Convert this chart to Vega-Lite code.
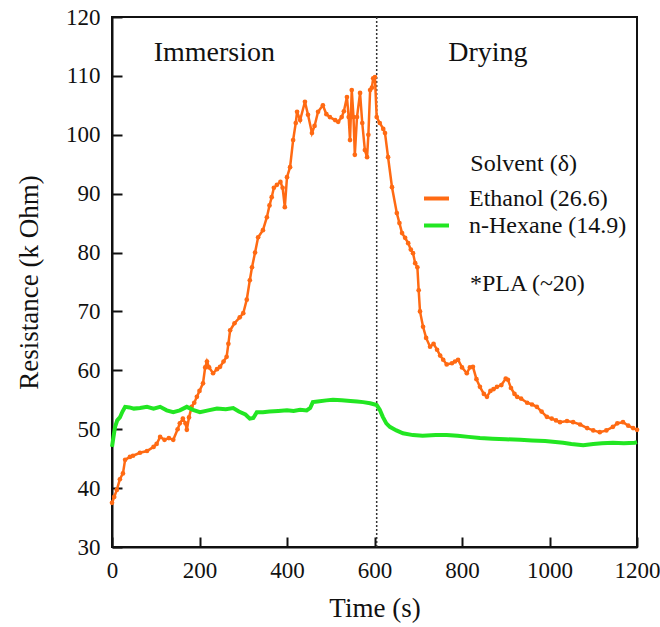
{
  "$schema": "https://vega.github.io/schema/vega-lite/v6.json",
  "width": 525,
  "height": 530,
  "autosize": "none",
  "padding": {"left": 112, "top": 17, "right": 23, "bottom": 80},
  "background": "white",
  "view": {"stroke": "#111", "strokeWidth": 2},
  "datasets": {
    "ethanol": [
      {"t":0,"r":37.5},{"t":5,"r":38.5},{"t":11,"r":39.7},{"t":18,"r":41.5},{"t":25,"r":42.5},{"t":30,"r":44.8},{"t":41,"r":45.3},{"t":48,"r":45.5},{"t":64,"r":46},{"t":80,"r":46.3},{"t":95,"r":47},{"t":102,"r":47.5},{"t":110,"r":48.7},{"t":120,"r":48.2},{"t":130,"r":48.5},{"t":140,"r":48.2},{"t":150,"r":50},{"t":155,"r":51},{"t":162,"r":51.8},{"t":168,"r":51},{"t":171,"r":49.9},{"t":176,"r":52},{"t":182,"r":53.8},{"t":188,"r":54.5},{"t":194,"r":55.5},{"t":200,"r":56.5},{"t":208,"r":57.8},{"t":213,"r":60.5},{"t":217,"r":61.5},{"t":222,"r":60.5},{"t":231,"r":59.5},{"t":240,"r":60.2},{"t":247,"r":60.6},{"t":255,"r":61.5},{"t":262,"r":62.3},{"t":266,"r":64.5},{"t":270,"r":66.8},{"t":280,"r":68},{"t":292,"r":69},{"t":300,"r":69.7},{"t":308,"r":72},{"t":315,"r":75.3},{"t":320,"r":77.5},{"t":327,"r":80},{"t":334,"r":82.6},{"t":345,"r":83.8},{"t":354,"r":86},{"t":360,"r":88},{"t":365,"r":89.4},{"t":370,"r":91},{"t":377,"r":91.5},{"t":385,"r":92},{"t":390,"r":91},{"t":395,"r":87.7},{"t":400,"r":92.8},{"t":407,"r":94.5},{"t":414,"r":99.1},{"t":420,"r":102},{"t":423,"r":103.9},{"t":430,"r":102.5},{"t":441,"r":105.6},{"t":448,"r":103.4},{"t":457,"r":100.3},{"t":463,"r":101.5},{"t":471,"r":103.9},{"t":482,"r":105},{"t":490,"r":103.5},{"t":498,"r":103},{"t":510,"r":102.5},{"t":517,"r":102.2},{"t":525,"r":103},{"t":530,"r":104},{"t":537,"r":106.4},{"t":541,"r":103},{"t":544,"r":99.1},{"t":548,"r":107.6},{"t":552,"r":103},{"t":555,"r":96.6},{"t":560,"r":103},{"t":567,"r":107.1},{"t":572,"r":102},{"t":578,"r":97.4},{"t":583,"r":96.2},{"t":586,"r":100},{"t":590,"r":107.6},{"t":594,"r":108},{"t":597,"r":109.6},{"t":601,"r":109.8},{"t":605,"r":103},{"t":612,"r":102},{"t":620,"r":101},{"t":624,"r":100.3},{"t":631,"r":96.2},{"t":640,"r":91.1},{"t":651,"r":86.7},{"t":657,"r":85},{"t":663,"r":83.3},{"t":670,"r":82.5},{"t":677,"r":81.6},{"t":683,"r":80.5},{"t":688,"r":79.9},{"t":693,"r":78.2},{"t":698,"r":77.5},{"t":701,"r":73.6},{"t":704,"r":70},{"t":711,"r":67.4},{"t":718,"r":65.5},{"t":727,"r":64},{"t":735,"r":64.5},{"t":743,"r":63.5},{"t":750,"r":62.5},{"t":757,"r":61.8},{"t":765,"r":61},{"t":777,"r":61.2},{"t":784,"r":61.5},{"t":791,"r":61.8},{"t":800,"r":60.5},{"t":811,"r":59.5},{"t":818,"r":60.5},{"t":825,"r":60.6},{"t":833,"r":58.5},{"t":841,"r":57.2},{"t":850,"r":56},{"t":857,"r":55.5},{"t":865,"r":56.5},{"t":872,"r":56.8},{"t":880,"r":57.2},{"t":890,"r":57.5},{"t":900,"r":58.6},{"t":905,"r":58.4},{"t":912,"r":57},{"t":920,"r":56},{"t":926,"r":55.5},{"t":935,"r":55.2},{"t":949,"r":54.5},{"t":960,"r":54.2},{"t":971,"r":53.8},{"t":982,"r":53},{"t":994,"r":52.1},{"t":1005,"r":51.8},{"t":1015,"r":51.5},{"t":1024,"r":51.2},{"t":1040,"r":51.4},{"t":1054,"r":51.2},{"t":1070,"r":50.8},{"t":1086,"r":50.2},{"t":1100,"r":49.8},{"t":1115,"r":49.5},{"t":1130,"r":49.8},{"t":1145,"r":50.4},{"t":1155,"r":51},{"t":1168,"r":51.2},{"t":1180,"r":50.6},{"t":1191,"r":50.2},{"t":1200,"r":49.9}
    ],
    "hexane": [
      {"t":0,"r":47},{"t":3,"r":48.5},{"t":7,"r":50.4},{"t":12,"r":51.5},{"t":18,"r":52},{"t":24,"r":53},{"t":30,"r":53.8},{"t":40,"r":53.7},{"t":50,"r":53.5},{"t":64,"r":53.6},{"t":80,"r":53.8},{"t":95,"r":53.5},{"t":110,"r":53.8},{"t":125,"r":53.2},{"t":140,"r":52.9},{"t":155,"r":53.2},{"t":171,"r":53.8},{"t":185,"r":53.3},{"t":201,"r":52.9},{"t":220,"r":53.2},{"t":240,"r":53.5},{"t":260,"r":53.4},{"t":277,"r":53.6},{"t":290,"r":53},{"t":305,"r":52.5},{"t":315,"r":51.8},{"t":323,"r":51.9},{"t":331,"r":52.9},{"t":345,"r":52.9},{"t":360,"r":53},{"t":380,"r":53.1},{"t":400,"r":53.2},{"t":415,"r":53.1},{"t":430,"r":53.3},{"t":445,"r":53.2},{"t":453,"r":53.6},{"t":459,"r":54.6},{"t":470,"r":54.7},{"t":490,"r":54.9},{"t":505,"r":55},{"t":525,"r":54.9},{"t":545,"r":54.8},{"t":560,"r":54.7},{"t":574,"r":54.6},{"t":590,"r":54.4},{"t":605,"r":54.1},{"t":612,"r":53.3},{"t":619,"r":52.1},{"t":627,"r":51},{"t":635,"r":50.4},{"t":650,"r":49.8},{"t":665,"r":49.3},{"t":688,"r":49},{"t":710,"r":48.9},{"t":740,"r":49},{"t":765,"r":49},{"t":790,"r":48.9},{"t":815,"r":48.7},{"t":841,"r":48.5},{"t":870,"r":48.4},{"t":900,"r":48.3},{"t":933,"r":48.2},{"t":960,"r":48.1},{"t":990,"r":48},{"t":1031,"r":47.7},{"t":1050,"r":47.5},{"t":1077,"r":47.3},{"t":1100,"r":47.5},{"t":1120,"r":47.6},{"t":1145,"r":47.7},{"t":1170,"r":47.6},{"t":1195,"r":47.7},{"t":1200,"r":47.8}
    ],
    "labels": [
      {"t":234,"r":112.6,"label":"Immersion"},
      {"t":859,"r":112.6,"label":"Drying"}
    ],
    "notes": [
      {"t":819,"r":93.8,"label":"Solvent (δ)"},
      {"t":818,"r":73.5,"label":"*PLA (~20)"}
    ],
    "divider": [{"t":605}]
  },
  "layer": [
    {
      "data": {"name": "divider"},
      "mark": {"type": "rule", "color": "#333", "strokeWidth": 1.5, "strokeDash": [2, 2]},
      "encoding": {"x": {"field": "t", "type": "quantitative"}}
    },
    {
      "data": {"name": "ethanol"},
      "mark": {"type": "line", "strokeWidth": 2.5, "point": {"filled": true, "size": 22}},
      "encoding": {
        "x": {"field": "t", "type": "quantitative", "scale": {"domain": [0, 1200], "nice": false},
              "axis": {"values": [0,200,400,600,800,1000,1200], "format": "d", "title": "Time (s)", "titleFont": "Liberation Serif, serif", "labelFont": "Liberation Serif, serif", "titleFontWeight": "normal", "titleColor": "#111", "labelColor": "#111", "domainColor": "#111", "domainWidth": 2, "tickColor": "#111", "tickWidth": 2, "grid": false, "titleFontSize": 27, "labelFontSize": 23, "tickSize": -10, "labelPadding": 22, "titlePadding": 13, "labelFlush": false}},
        "y": {"field": "r", "type": "quantitative", "scale": {"domain": [30, 120], "nice": false},
              "axis": {"values": [30,40,50,60,70,80,90,100,110,120], "title": "Resistance (k Ohm)", "titleFont": "Liberation Serif, serif", "labelFont": "Liberation Serif, serif", "titleFontWeight": "normal", "titleColor": "#111", "labelColor": "#111", "domainColor": "#111", "domainWidth": 2, "tickColor": "#111", "tickWidth": 2, "grid": false, "titleFontSize": 27, "labelFontSize": 23, "tickSize": -10, "labelPadding": 22, "titlePadding": 22}},
        "color": {"datum": "Ethanol (26.6)", "type": "nominal",
                  "scale": {"domain": ["Ethanol (26.6)", "n-Hexane (14.9)"], "range": ["#FF6A13", "#22E622"]},
                  "legend": {"title": null, "orient": "none", "legendX": 310, "legendY": 167, "symbolType": "stroke", "symbolSize": 625, "symbolStrokeWidth": 4, "labelFont": "Liberation Serif, serif", "labelFontSize": 24, "labelColor": "#111", "labelOffset": 18, "rowPadding": -3, "padding": 0}}
      }
    },
    {
      "data": {"name": "hexane"},
      "mark": {"type": "line", "strokeWidth": 4},
      "encoding": {
        "x": {"field": "t", "type": "quantitative"},
        "y": {"field": "r", "type": "quantitative"},
        "color": {"datum": "n-Hexane (14.9)", "type": "nominal"}
      }
    },
    {
      "data": {"name": "labels"},
      "mark": {"type": "text", "font": "Liberation Serif, serif", "fontSize": 28, "align": "center", "baseline": "alphabetic", "color": "#111"},
      "encoding": {"x": {"field": "t", "type": "quantitative"}, "y": {"field": "r", "type": "quantitative"}, "text": {"field": "label"}}
    },
    {
      "data": {"name": "notes"},
      "mark": {"type": "text", "font": "Liberation Serif, serif", "fontSize": 24, "align": "left", "baseline": "alphabetic", "color": "#111"},
      "encoding": {"x": {"field": "t", "type": "quantitative"}, "y": {"field": "r", "type": "quantitative"}, "text": {"field": "label"}}
    }
  ]
}
